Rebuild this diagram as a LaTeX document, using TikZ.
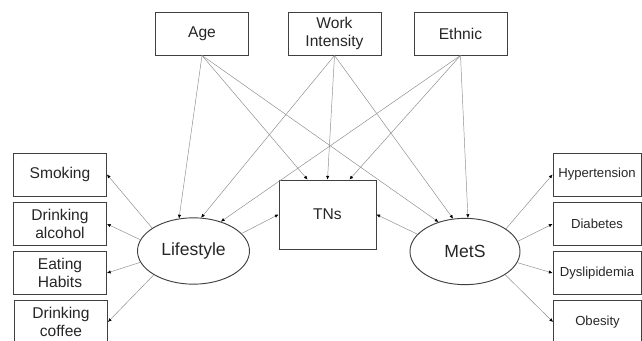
\documentclass[tikz,border=0pt]{standalone}
\usepackage{fontspec}
\setmainfont{Liberation Sans}
\usetikzlibrary{shapes,arrows.meta}
\tikzstyle{line} = [draw=black!45, line width=0.4pt, -{Latex[length=1.1mm,width=1mm,color=black]}]
\tikzstyle{varbox} = [draw=black!75, line width=0.8pt, rectangle, align=center, inner sep=0pt,
  minimum width=2.79cm, minimum height=1.29cm, text=black!85,
  font=\fontsize{13.3}{16}\selectfont]
\tikzstyle{smallbox} = [varbox, minimum width=2.64cm, font=\fontsize{11.2}{14}\selectfont]
\tikzstyle{latent} = [draw=black!75, line width=0.8pt, ellipse, inner sep=0pt,
  minimum width=3.36cm, minimum height=1.99cm, text=black!85,
  font=\fontsize{15}{18}\selectfont]

\begin{document}
\begin{tikzpicture}[x=0.03cm, y=-0.03cm]
    \useasboundingbox (0,0) rectangle (642,341);
                \node [varbox] (age) at (202,33.5) {Age};
                \node [varbox] (work) at (334.5,33.5) {Work\\Intensity};
                \node [varbox] (ethnic) at (460.5,33.5) {Ethnic};
                \node [varbox, minimum width=2.91cm, minimum height=2.07cm] (tns) at (327.5,214.5) {TNs};
                \node [latent] (lifestyle) at (193.5,251) {Lifestyle};
                \node [latent, minimum width=3.3cm] (mets) at (465,251.5) {MetS};
                \node [varbox] (smoking) at (60,174.5) {Smoking};
                \node [varbox] (alcohol) at (60,224) {Drinking\\alcohol};
                \node [varbox] (eating) at (60,273) {Eating\\Habits};
                \node [varbox] (coffee) at (61,322) {Drinking\\coffee};
                \node [smallbox] (hyper) at (597,174.5) {Hypertension};
                \node [smallbox] (diabetes) at (597,224) {Diabetes};
                \node [smallbox] (dysl) at (597,273) {Dyslipidemia};
                \node [smallbox] (obesity) at (597.5,322) {Obesity};
                \path [line] (age.south) -- (lifestyle.114);
                \path [line] (work.south) -- (lifestyle.77);
                \path [line] (ethnic.south) -- (lifestyle.47);
                \path [line] (age.south) -- ([xshift=-0.6cm]tns.north);
                \path [line] (work.south) -- (tns.north);
                \path [line] (ethnic.south) -- ([xshift=0.66cm]tns.north);
                \path [line] (age.south) -- (mets.132);
                \path [line] (work.south) -- (mets.110);
                \path [line] (ethnic.south) -- (mets.85);
                \path [line] (lifestyle.20) -- (tns.west);
                \path [line] (mets.160) -- (tns.east);
                \path [line] (lifestyle.151) -- (smoking.east);
                \path [line] (lifestyle.168) -- (alcohol.east);
                \path [line] (lifestyle.192) -- (eating.east);
                \path [line] (lifestyle.211) -- (coffee.east);
                \path [line] (mets.29) -- (hyper.west);
                \path [line] (mets.11) -- (diabetes.west);
                \path [line] (mets.-12) -- (dysl.west);
                \path [line] (mets.-30) -- (obesity.west);
            \end{tikzpicture}
\end{document}
